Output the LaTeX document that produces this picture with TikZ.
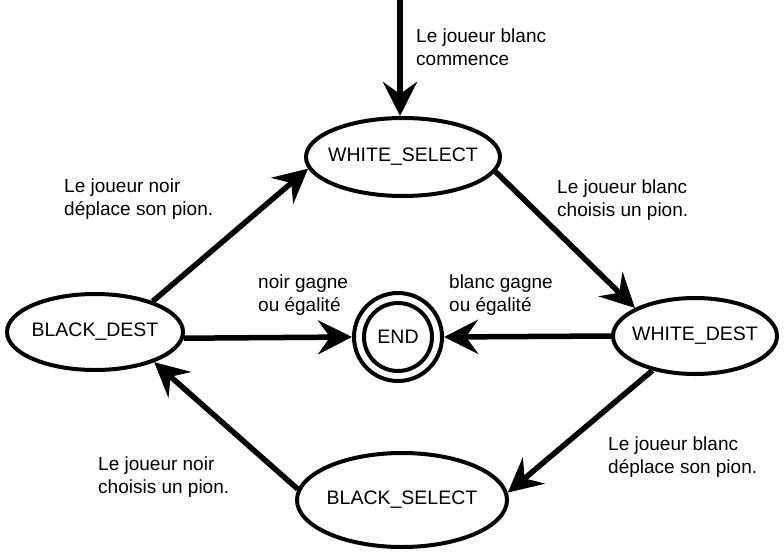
\documentclass[tikz,border=0pt]{standalone}
\usepackage{fontspec}
\setmainfont{Liberation Sans}
\usetikzlibrary{shapes.geometric,arrows.meta}
\begin{document}
\begin{tikzpicture}[x=1pt,y=-1pt,
  state/.style={draw,ellipse,line width=4pt,inner sep=0pt},
  stxt/.style={inner sep=0pt,font=\fontsize{19.5}{22}\selectfont},
  lbl/.style={anchor=north west,inner sep=0pt,align=left,font=\fontsize{19}{23}\selectfont},
  arr/.style={line width=5.5pt,-{Stealth[length=34pt,width=34pt,inset=12pt]}}]
\useasboundingbox (0,0) rectangle (784,557);
\node[state,minimum width=194pt,minimum height=78pt] (ws) at (403,157) {};
\node[state,minimum width=176pt,minimum height=76pt] (bd) at (95,332) {};
\node[state,minimum width=164pt,minimum height=76pt] (wd) at (695,336) {};
\node[state,minimum width=210pt,minimum height=94pt] (bs) at (402,500) {};
\node[stxt] (wst) at (ws) {WHITE\_SELECT};
\node[stxt] (bdt) at (bd) {BLACK\_DEST};
\node[stxt] (wdt) at (wd) {WHITE\_DEST};
\node[stxt] (bst) at (bs) {BLACK\_SELECT};
\node[draw,circle,line width=4pt,minimum size=88pt,inner sep=0pt] (endo) at (398,337) {};
\node[draw,circle,line width=4pt,minimum size=68pt,inner sep=0pt,font=\fontsize{19.5}{22}\selectfont] (endi) at (398,337) {END};
\coordinate (start) at (400,0);
\draw[arr] (start) -- (ws.north -| start);
\draw[arr] (bd.28) -- (ws.187);
\draw[arr] (ws.351) -- (wd.155);
\draw[arr] (wd.180) -- (endo.0);
\draw[arr] (bd.-4) -- (endo.180);
\draw[arr] (wd.219) -- (bs.4);
\draw[arr] (bs.174) -- (bd.-27);
\node[lbl] (l1) at (416,29) {Le joueur blanc\\commence};
\node[lbl] (l2) at (64,179) {Le joueur noir\\déplace son pion.};
\node[lbl] (l3) at (557,180) {Le joueur blanc\\choisis un pion.};
\node[lbl] (l4) at (258,275) {noir gagne\\ou égalité};
\node[lbl] (l5) at (449,275) {blanc gagne\\ou égalité};
\node[lbl] (l6) at (608,437) {Le joueur blanc\\déplace son pion.};
\node[lbl] (l7) at (98,457) {Le joueur noir\\choisis un pion.};
\end{tikzpicture}
\end{document}
